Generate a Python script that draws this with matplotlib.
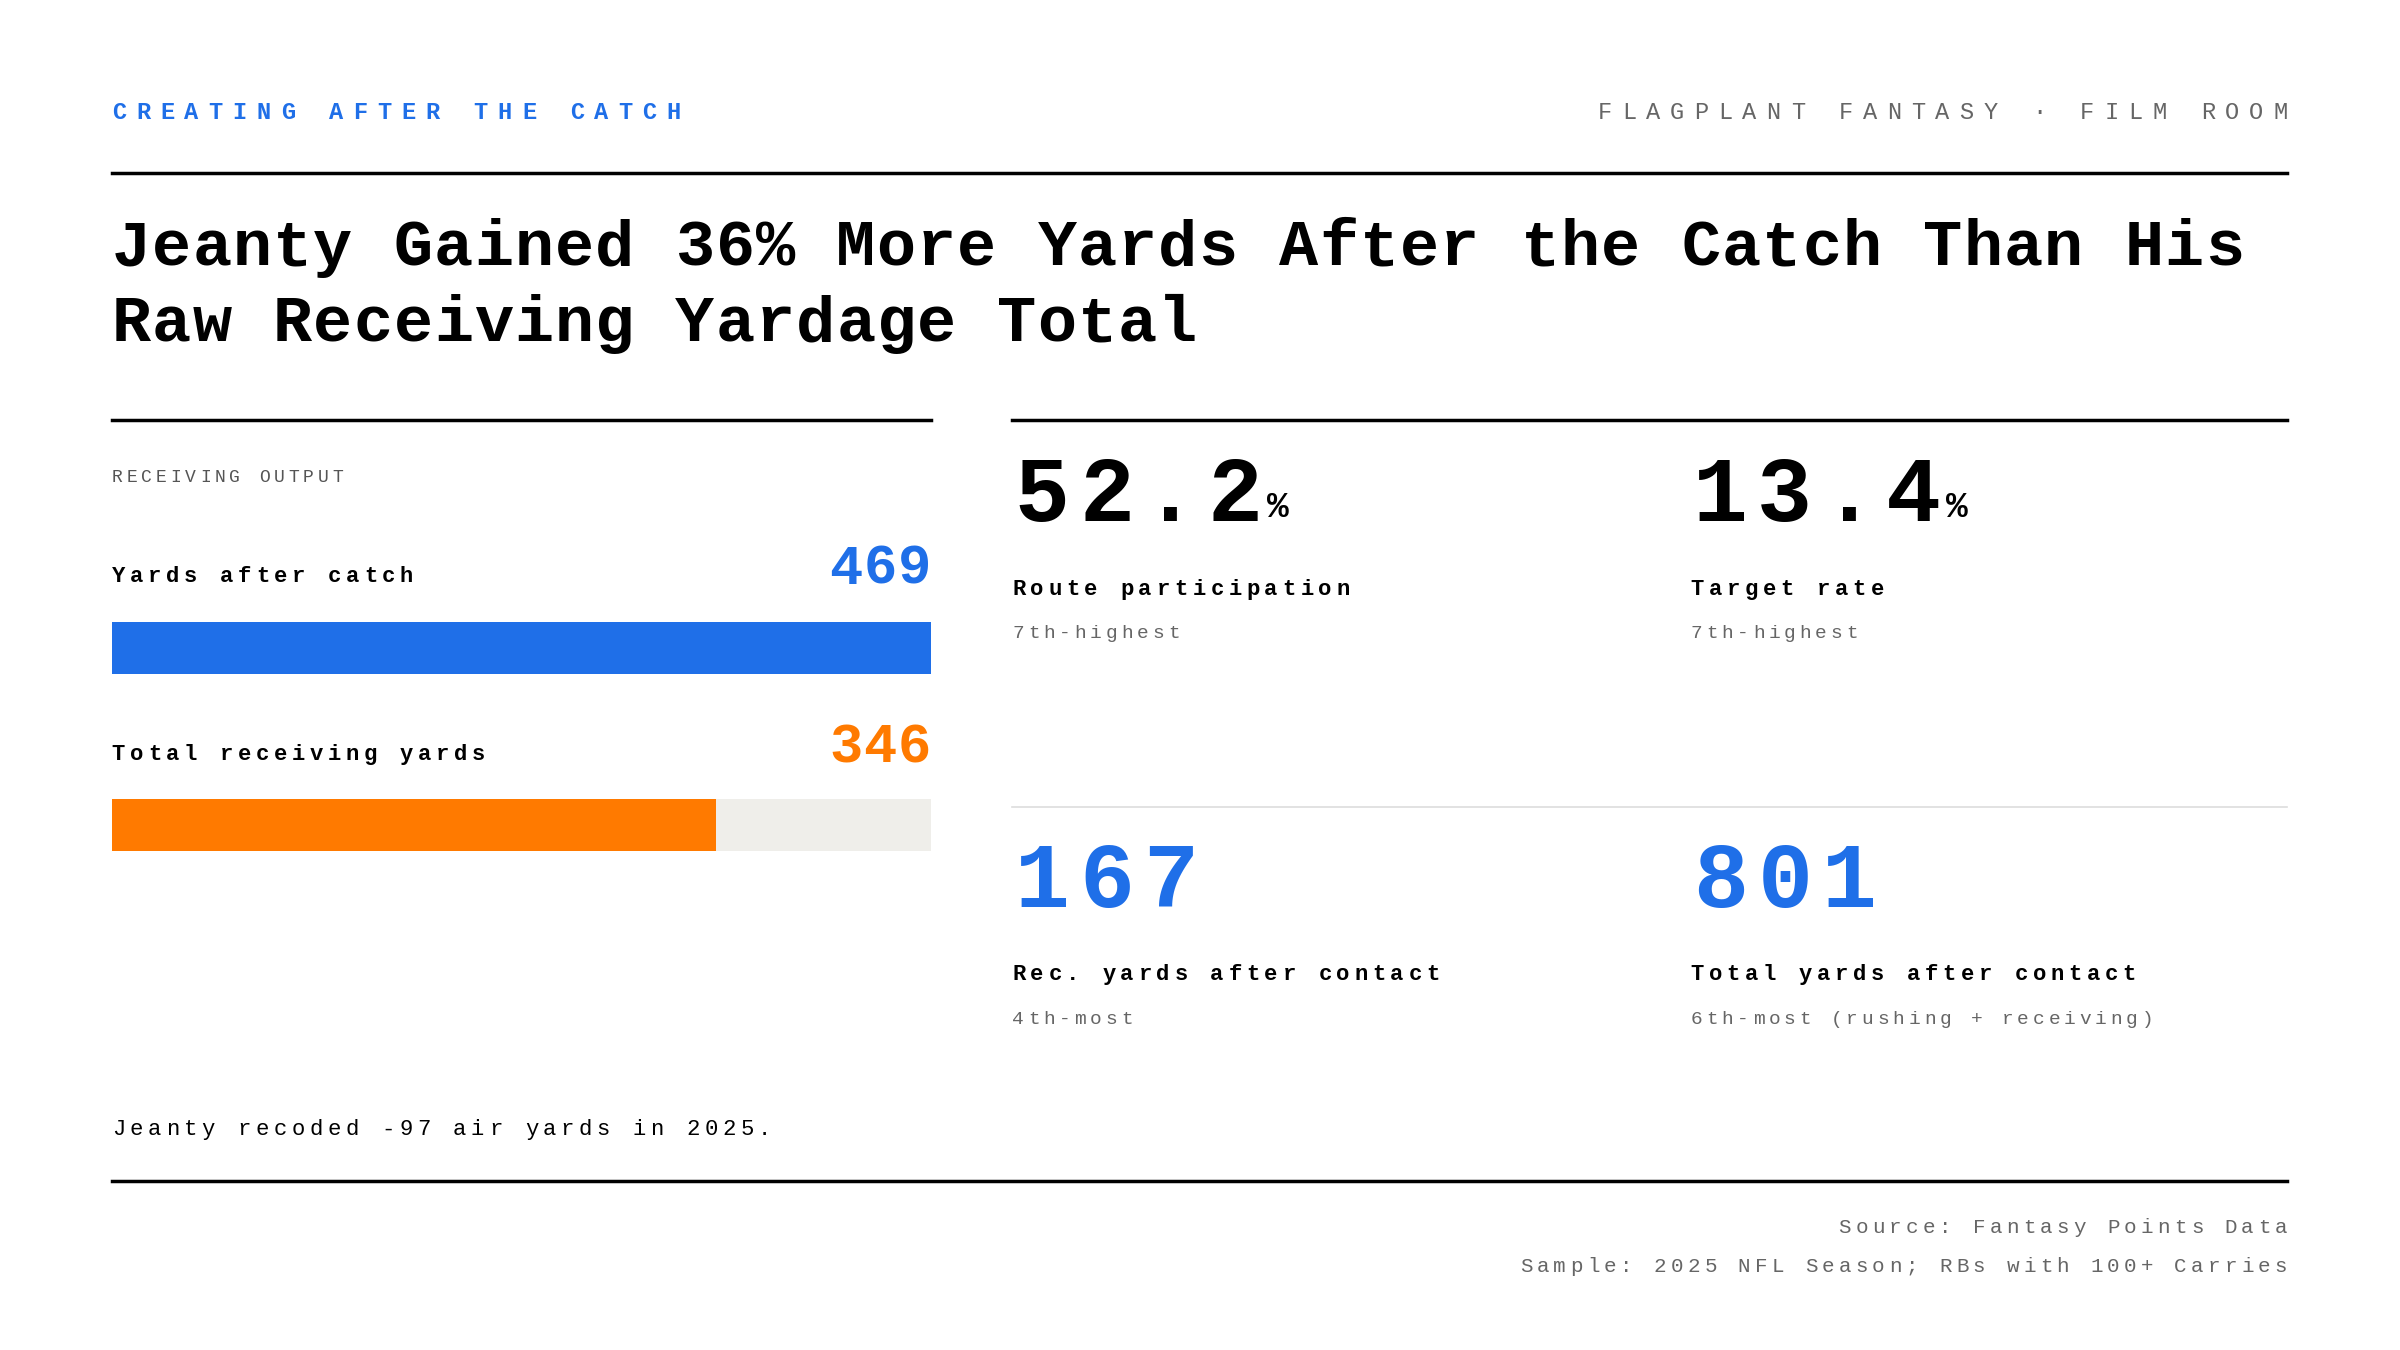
import matplotlib
matplotlib.use("Agg")
import matplotlib.pyplot as plt
from matplotlib.lines import Line2D

# data
kicker = "CREATING AFTER THE CATCH"
brand = "FLAGPLANT FANTASY · FILM ROOM"
title_lines = ["Jeanty Gained 36% More Yards After the Catch Than His",
               "Raw Receiving Yardage Total"]
bar_labels = ["Yards after catch", "Total receiving yards"]
bar_values = [469, 346]
stat_values = ["52.2", "13.4", "167", "801"]
stat_units = ["%", "%", "", ""]
stat_labels = ["Route participation", "Target rate",
               "Rec. yards after contact", "Total yards after contact"]
stat_notes = ["7th-highest", "7th-highest", "4th-most", "6th-most (rushing + receiving)"]
note = "Jeanty recoded -97 air yards in 2025."
sources = ["Source: Fantasy Points Data", "Sample: 2025 NFL Season; RBs with 100+ Carries"]

BLUE = "#1f6fe8"
ORANGE = "#ff7a00"
GRAY = "#666666"
FONT = "Liberation Mono"

fig = plt.figure(figsize=(24, 13.5), dpi=100)
fig.patch.set_facecolor("white")
L, R = 0.0466, 0.953


def spaced(x, y, s, pitch, size, ha="left", **kw):
    # draw text char by char to fake letter spacing
    n = len(s)
    cw = 0.6 * size * 100 / 72 / 2400
    x0 = x if ha == "left" else x - pitch * (n - 1) - cw
    for i, ch in enumerate(s):
        fig.text(x0 + i * pitch, y, ch, ha="left", va="center", family=FONT,
                 fontsize=size, **kw)
    return x0 + pitch * (n - 1) + cw


def hline(y, x0, x1, color="black", lw=2.5):
    fig.add_artist(Line2D([x0, x1], [y, y], color=color, lw=lw, transform=fig.transFigure))


spaced(L, 0.917, kicker, 0.01005, 17, color=BLUE, weight="bold")
spaced(R, 0.917, brand, 0.01005, 17, ha="right", color=GRAY)
hline(0.872, L, R)
for i, t in enumerate(title_lines):
    spaced(L, 0.816 - i * 0.056, t, 0.01677, 47, weight="bold")

# left panel
hline(0.689, L, 0.388)
spaced(L, 0.646, "RECEIVING OUTPUT", 0.00612, 13, color="#555555")
colors = [BLUE, ORANGE]
label_y = [0.573, 0.441]
bar_y = [0.501, 0.370]
for i in range(2):
    spaced(L, label_y[i], bar_labels[i], 0.0075, 16, weight="bold")
    spaced(0.388, label_y[i] + 0.005, str(bar_values[i]), 0.0143, 40, ha="right",
           weight="bold", color=colors[i])
    ax = fig.add_axes([L, bar_y[i], 0.388 - L, 0.038])
    ax.barh([0], [max(bar_values)], color="#efeeea", height=1)
    ax.barh([0], [bar_values[i]], color=colors[i], height=1)
    ax.set_xlim(0, max(bar_values))
    ax.set_ylim(-0.5, 0.5)
    ax.axis("off")

# right panel
hline(0.689, 0.4216, R)
hline(0.4025, 0.4216, R, color="#dddddd", lw=1.2)
cols = [0.4228, 0.7054]
rows = [(0.632, 0.563, 0.531), (0.346, 0.278, 0.245)]
for k in range(4):
    x = cols[k % 2]
    yn, yl, ys = rows[k // 2]
    c = "black" if k < 2 else BLUE
    x1 = spaced(x, yn, stat_values[k], 0.0268, 66, weight="bold", color=c)
    if stat_units[k]:
        fig.text(x1 + 0.002, yn - 0.008, stat_units[k], family=FONT,
                 weight="bold", fontsize=26, color=c, va="center")
    spaced(x - 0.001, yl, stat_labels[k], 0.0075, 16, weight="bold")
    spaced(x - 0.001, ys, stat_notes[k], 0.00648, 14, color=GRAY)

spaced(L, 0.163, note, 0.00748, 16)
hline(0.125, L, R)
for i, s in enumerate(sources):
    spaced(R, 0.091 - i * 0.029, s, 0.00699, 15, ha="right", color=GRAY)

fig.savefig("out.png", dpi=100, facecolor="white")
